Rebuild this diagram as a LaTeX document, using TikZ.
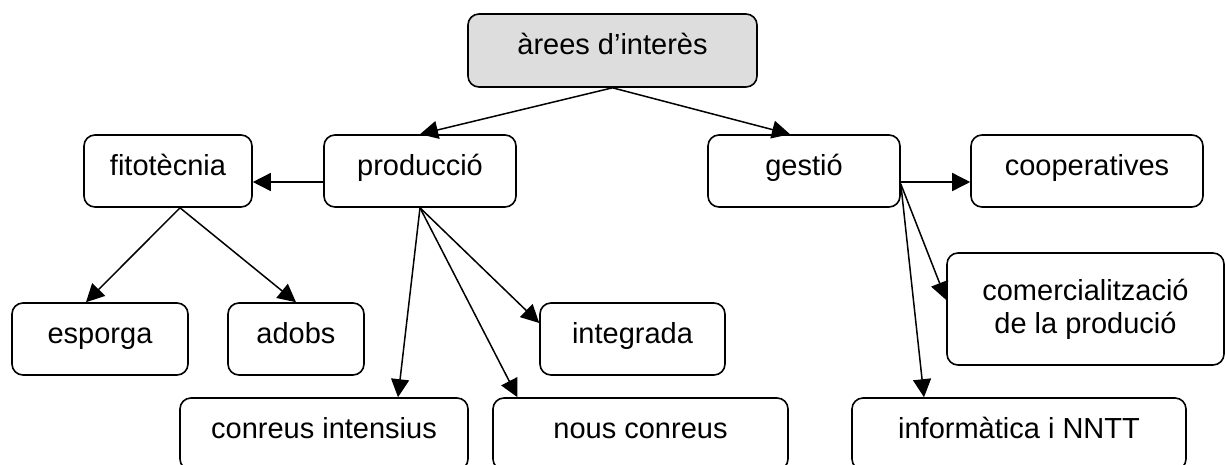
\documentclass[tikz,border=0pt]{standalone}
\usepackage{fontspec}
\setmainfont{Liberation Sans}
\usetikzlibrary{arrows.meta}
\definecolor{rootgray}{HTML}{DDDDDD}
\begin{document}
\begin{tikzpicture}[x=1pt,y=-1pt,
  box/.style={draw, line width=1.6pt, rounded corners=11pt, inner sep=0pt,
    align=center, font=\fontsize{29}{33}\selectfont, fill=white},
  onebox/.style={box, text height=21pt, text depth=13pt},
  arr/.style={line width=1.5pt, -{Triangle[length=18pt,width=18pt]}}]
\useasboundingbox (0,0) rectangle (1225,464);
\clip (0,0) rectangle (1225,464);

\node[onebox, fill=rootgray, minimum width=289pt, minimum height=73pt] (areas) at (612.5,50.5) {àrees d’interès};
\node[onebox, minimum width=168pt, minimum height=72pt] (fito) at (168,171) {fitotècnia};
\node[onebox, minimum width=192pt, minimum height=72pt] (prod) at (420,171) {producció};
\node[onebox, minimum width=192pt, minimum height=72pt] (gestio) at (804,171) {gestió};
\node[onebox, minimum width=232pt, minimum height=72pt] (coop) at (1087,171) {cooperatives};
\node[onebox, minimum width=176pt, minimum height=72pt] (esporga) at (100,339) {esporga};
\node[onebox, minimum width=136pt, minimum height=72pt] (adobs) at (296,339) {adobs};
\node[onebox, minimum width=185pt, minimum height=72pt] (integrada) at (632.5,339) {integrada};
\node[box, minimum width=277pt, minimum height=112pt] (comerc) at (1085.5,309) {comercialització\\de la produció};
\node[onebox, minimum width=288pt, minimum height=72pt] (conreus) at (324,434) {conreus intensius};
\node[onebox, minimum width=295pt, minimum height=72pt] (nous) at (640.5,434) {nous conreus};
\node[onebox, minimum width=334pt, minimum height=72pt] (inform) at (1019,434) {informàtica i NNTT};

\draw[arr] (areas.south) -- (prod.north);
\draw[arr] (areas.south) -- ([xshift=-14pt]gestio.north);
\draw[arr] ([yshift=-11pt]prod.west) -- ([yshift=-11pt]fito.east);
\draw[arr] ([xshift=12pt]fito.south) -- ([xshift=-14pt]esporga.north);
\draw[arr] ([xshift=12pt]fito.south) -- (adobs.north);
\draw[arr] (prod.south) -- ([xshift=74pt]conreus.north);
\draw[arr] (prod.south) -- ([xshift=-123pt]nous.north);
\draw[arr] (prod.south) -- ([yshift=16pt]integrada.west);
\draw[arr] ([yshift=-11pt]gestio.east) -- ([yshift=-11pt]coop.west);
\draw[arr] ([yshift=-13pt]gestio.east) -- ([yshift=9pt]comerc.west);
\draw[arr] ([yshift=-13pt]gestio.east) -- ([xshift=-95pt]inform.north);
\end{tikzpicture}
\end{document}
